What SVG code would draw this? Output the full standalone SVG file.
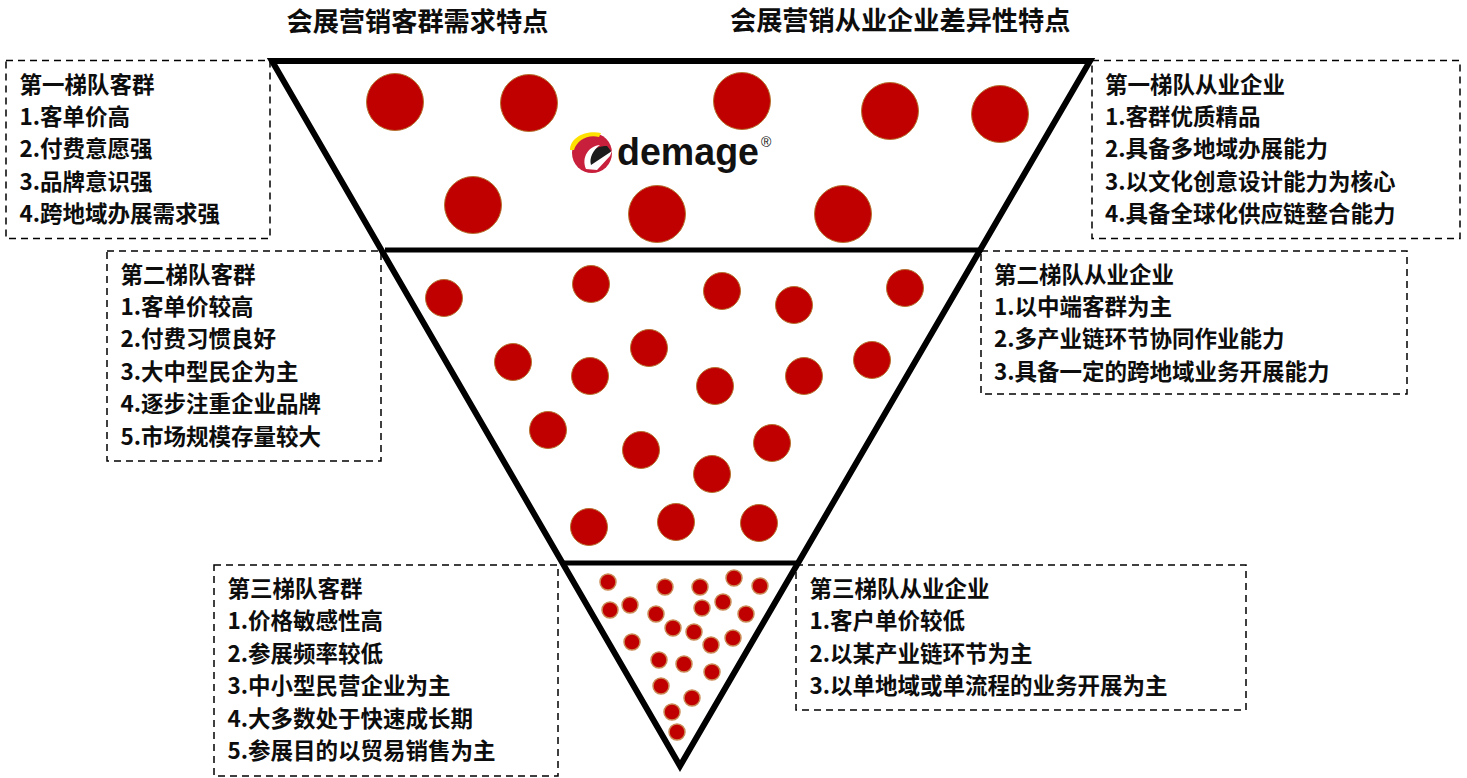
<svg xmlns="http://www.w3.org/2000/svg" width="1467" height="778" viewBox="0 0 1467 778">
<style>
text{font-family:"Noto Sans CJK SC","Liberation Sans",sans-serif;font-weight:700;fill:#0d0d0d}
.t{font-size:22.500px}
.h{font-size:26.200px}
.box{fill:none;stroke:#000;stroke-width:1.500;stroke-dasharray:7 5}
.tri{fill:none;stroke:#000;stroke-width:6;stroke-linejoin:miter}
.bar{stroke:#000;stroke-width:5}
.big{fill:#c00000;stroke:#b5722f;stroke-width:1}
.mid{fill:#c00000;stroke:#b5722f;stroke-width:1}
.small{fill:#c00000;stroke:#c98a55;stroke-width:1.500}
.logotext{font-family:"Liberation Sans",sans-serif;fill:#111}
</style>
<rect width="1467" height="778" fill="#fff"/>
<g id="headers">
<text class="h" x="286.500" y="31">会展营销客群需求特点</text>
<text class="h" x="730" y="30">会展营销从业企业差异性特点</text>
</g>
<g id="connectors">
<path class="tri" d="M272 61H1090L680 766Z"/>
<line class="bar" x1="385" y1="250" x2="979" y2="250"/>
<line class="bar" x1="563" y1="563" x2="798" y2="563"/>
</g>
<g id="tier1-dots">
<circle class="big" cx="395" cy="102" r="28.500"/><circle class="big" cx="529" cy="103" r="28.500"/><circle class="big" cx="742" cy="101" r="28.500"/><circle class="big" cx="890" cy="111" r="28.500"/><circle class="big" cx="1000" cy="114" r="28.500"/><circle class="big" cx="473" cy="205" r="28.500"/><circle class="big" cx="657" cy="214" r="28.500"/><circle class="big" cx="843" cy="214" r="28.500"/>
</g>
<g id="tier2-dots">
<circle class="mid" cx="444" cy="298" r="18.500"/><circle class="mid" cx="591" cy="284" r="18.500"/><circle class="mid" cx="722" cy="291" r="18.500"/><circle class="mid" cx="794" cy="305" r="18.500"/><circle class="mid" cx="905" cy="288" r="18.500"/><circle class="mid" cx="513" cy="362" r="18.500"/><circle class="mid" cx="649" cy="348" r="18.500"/><circle class="mid" cx="590" cy="376" r="18.500"/><circle class="mid" cx="715" cy="386" r="18.500"/><circle class="mid" cx="804" cy="376" r="18.500"/><circle class="mid" cx="872" cy="360" r="18.500"/><circle class="mid" cx="548" cy="430" r="18.500"/><circle class="mid" cx="641" cy="450" r="18.500"/><circle class="mid" cx="772" cy="443" r="18.500"/><circle class="mid" cx="712" cy="474" r="18.500"/><circle class="mid" cx="589" cy="527" r="18.500"/><circle class="mid" cx="676" cy="522" r="18.500"/><circle class="mid" cx="759" cy="523" r="18.500"/>
</g>
<g id="tier3-dots">
<circle class="small" cx="608" cy="582" r="8"/><circle class="small" cx="665" cy="587" r="8"/><circle class="small" cx="700" cy="587" r="8"/><circle class="small" cx="734" cy="578" r="8"/><circle class="small" cx="760" cy="586" r="8"/><circle class="small" cx="610" cy="610" r="8"/><circle class="small" cx="630" cy="605" r="8"/><circle class="small" cx="656" cy="614" r="8"/><circle class="small" cx="673" cy="628" r="8"/><circle class="small" cx="694" cy="632" r="8"/><circle class="small" cx="702" cy="608" r="8"/><circle class="small" cx="723" cy="602" r="8"/><circle class="small" cx="746" cy="614" r="8"/><circle class="small" cx="711" cy="645" r="8"/><circle class="small" cx="733" cy="638" r="8"/><circle class="small" cx="632" cy="642" r="8"/><circle class="small" cx="659" cy="660" r="8"/><circle class="small" cx="684" cy="664" r="8"/><circle class="small" cx="712" cy="672" r="8"/><circle class="small" cx="661" cy="686" r="8"/><circle class="small" cx="692" cy="698" r="8"/><circle class="small" cx="672" cy="712" r="8"/><circle class="small" cx="677" cy="732" r="8"/>
</g>
<g id="logo">
<circle cx="592" cy="153" r="20" fill="#c8203c"/>
<path d="M570 150C570 138 585 130 601 133L599 137C588 134 577 140 574 150Z" fill="#ffe100"/>
<path d="M588 168C585 156 592 146 607 146L611 151L607 158L595 168Z" fill="#1c1c1c"/>
<path d="M586 169C581 157 589 146 600 145C593 150 589 158 591 165L612 151L610 156L597 170Z" fill="#fff"/>
<text class="logotext" x="617" y="165" font-size="38" textLength="142" lengthAdjust="spacingAndGlyphs">demage</text>
<text class="logotext" x="761" y="147" font-size="14" style="font-weight:400">®</text>
</g>
<g id="left-tier1">
<rect class="box" x="6" y="60.500" width="264" height="178"/>
<text class="t" x="19.500" y="93">第一梯队客群</text><text class="t" x="19.500" y="125">1.客单价高</text><text class="t" x="19.500" y="157">2.付费意愿强</text><text class="t" x="19.500" y="190">3.品牌意识强</text><text class="t" x="19.500" y="222">4.跨地域办展需求强</text>
</g>
<g id="left-tier2">
<rect class="box" x="107" y="251" width="274" height="210"/>
<text class="t" x="120.500" y="283">第二梯队客群</text><text class="t" x="120.500" y="315">1.客单价较高</text><text class="t" x="120.500" y="347">2.付费习惯良好</text><text class="t" x="120.500" y="380">3.大中型民企为主</text><text class="t" x="120.500" y="412">4.逐步注重企业品牌</text><text class="t" x="120.500" y="445">5.市场规模存量较大</text>
</g>
<g id="left-tier3">
<rect class="box" x="214" y="565" width="344" height="211"/>
<text class="t" x="227.500" y="597">第三梯队客群</text><text class="t" x="227.500" y="629">1.价格敏感性高</text><text class="t" x="227.500" y="662">2.参展频率较低</text><text class="t" x="227.500" y="694">3.中小型民营企业为主</text><text class="t" x="227.500" y="727">4.大多数处于快速成长期</text><text class="t" x="227.500" y="759">5.参展目的以贸易销售为主</text>
</g>
<g id="right-tier1">
<rect class="box" x="1092" y="60.500" width="368" height="178"/>
<text class="t" x="1105" y="93">第一梯队从业企业</text><text class="t" x="1105" y="125">1.客群优质精品</text><text class="t" x="1105" y="157">2.具备多地域办展能力</text><text class="t" x="1105" y="190">3.以文化创意设计能力为核心</text><text class="t" x="1105" y="222">4.具备全球化供应链整合能力</text>
</g>
<g id="right-tier2">
<rect class="box" x="981" y="251" width="426" height="143"/>
<text class="t" x="994" y="283">第二梯队从业企业</text><text class="t" x="994" y="315">1.以中端客群为主</text><text class="t" x="994" y="347">2.多产业链环节协同作业能力</text><text class="t" x="994" y="380">3.具备一定的跨地域业务开展能力</text>
</g>
<g id="right-tier3">
<rect class="box" x="796" y="565" width="450" height="145"/>
<text class="t" x="809.500" y="597">第三梯队从业企业</text><text class="t" x="809.500" y="629">1.客户单价较低</text><text class="t" x="809.500" y="662">2.以某产业链环节为主</text><text class="t" x="809.500" y="694">3.以单地域或单流程的业务开展为主</text>
</g>
</svg>
